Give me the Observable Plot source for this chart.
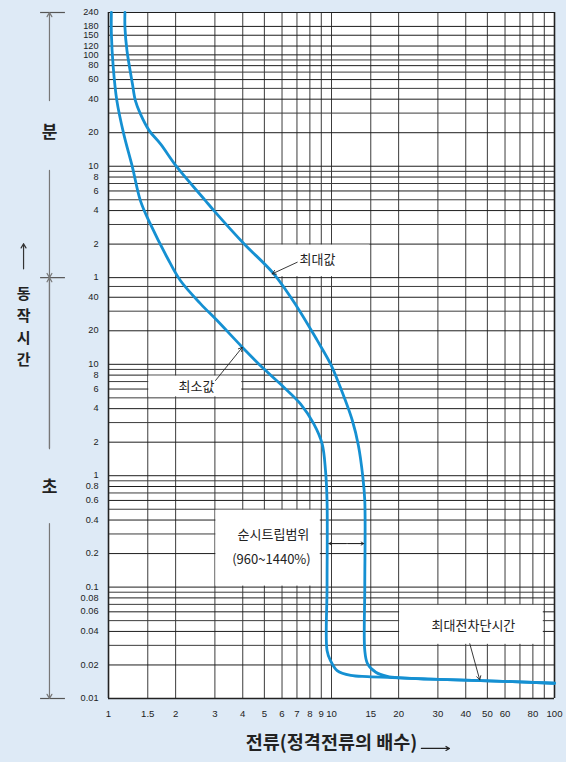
<!DOCTYPE html>
<html><head><meta charset="utf-8">
<script src="https://cdn.jsdelivr.net/npm/d3@7"></script>
<script src="https://cdn.jsdelivr.net/npm/@observablehq/plot@0.6"></script>
<style>
html,body{margin:0;padding:0;background:#deeaf6;}
#chart{width:566px;height:762px;}
</style></head><body><div id="chart"></div>
<script>
// Curve data: current (multiple of rated current) vs operating time (seconds)
const minI = [1.03, 1.03, 1.05, 1.09, 1.17, 1.28, 1.39, 1.54, 1.83, 2.10, 2.59, 3.07, 3.98, 4.97, 6.11, 7.26, 8.33, 9.08, 9.40, 9.55, 9.55, 9.55, 9.90, 10.6, 12.2, 14.5, 20.4, 27.8, 46.6, 100];
const minT = [14400, 9300, 4650, 2330, 1170, 590, 295, 182, 91.5, 56.5, 34.9, 24.7, 14.25, 9.11, 6.23, 4.42, 2.92, 1.93, 1.11, 0.6, 0.1, 0.027, 0.0219, 0.0178, 0.0161, 0.0157, 0.0153, 0.0149, 0.0145, 0.0137];
const maxI = [1.185, 1.185, 1.21, 1.28, 1.32, 1.39, 1.52, 1.71, 2.03, 2.72, 2.97, 4.05, 5.51, 7.02, 8.63, 9.90, 10.8, 12.4, 13.2, 13.8, 14.1, 14.1, 14.1, 14.5, 15.8, 17.8, 20.4, 27.8, 46.6, 100];
const maxT = [14400, 10600, 6560, 3300, 2330, 1770, 1260, 953, 588, 295, 240, 121, 64.9, 32.6, 16.4, 10.1, 6.68, 3.13, 1.87, 1.0, 0.6, 0.1, 0.027, 0.0206, 0.0172, 0.0158, 0.0153, 0.0149, 0.0145, 0.0137];

// Axes
const xTicks = [1, 1.5, 2, 3, 4, 5, 6, 7, 8, 9, 10, 15, 20, 30, 40, 50, 60, 80, 100];
const xGrid = [1, 1.5, 2, 3, 4, 5, 6, 7, 8, 9, 10, 15, 20, 30, 40, 50, 60, 70, 80, 90, 100];
const yTickValues = [0.01, 0.02, 0.04, 0.06, 0.08, 0.1, 0.2, 0.4, 0.6, 0.8, 1, 2, 4, 6, 8, 10, 20, 40, 60, 120, 240, 360, 480, 600, 1200, 2400, 3600, 4800, 6000, 7200, 9000, 10800, 14400];
const yTickLabels = ["0.01", "0.02", "0.04", "0.06", "0.08", "0.1", "0.2", "0.4", "0.6", "0.8", "1", "2", "4", "6", "8", "10", "20", "40", "1", "2", "4", "6", "8", "10", "20", "40", "60", "80", "100", "120", "150", "180", "240"];
const yMinorGrid = [0.03, 0.05, 0.07, 0.09, 0.3, 0.5, 0.7, 0.9, 3, 5, 7, 9, 30, 50, 180, 300, 420, 540, 1800, 3000, 4200, 5400];

// Annotation boxes (white), texts and arrows
const boxX1 = [5, 1.5, 3, 20];
const boxX2 = [15, 4, 9, 90];
const boxY1 = [60, 5, 0.1, 0.03];
const boxY2 = [120, 8, 0.5, 0.07];
const labelText = ["최대값", "최소값", "순시트립범위", "(960~1440%)", "최대전차단시간"];
const labelX = [8.65, 2.48, 5.49, 5.38, 43.3];
const labelY = [87.3, 6.25, 0.297, 0.177, 0.0452];
const arrX1 = [7.02, 3.02, 41.7];
const arrY1 = [82.5, 7.16, 0.031];
const arrX2 = [5.42, 3.98, 46.2];
const arrY2 = [64.9, 14.2, 0.01472];
const rangeArrow = {x1: 11.6, x2: 9.75, x3: 11.9, x4: 13.95, y: 0.246};

// Side (margin) annotation
const sideX = 0.5436, sideTickX1 = 0.496, sideTickX2 = 0.641, sideTextX = 0.416;
const sideCross = [14400, 60, 0.01];
const sideArrY1 = [2330, 550, 1.75, 0.372];
const sideArrY2 = [14400, 60, 60, 0.01];
const sideLabels = ["분", "초"];
const sideLabelY = [1200, 0.78];
const xTitle = "전류(정격전류의 배수)";
const yTitleChars = ["동", "작", "시", "간"];
const yTitleY = [42.3, 26.8, 17.0, 10.8];

const labelMap = new Map(yTickValues.map((v, i) => [v, yTickLabels[i]]));
const minData = minI.map((x, i) => ({I: x, t: minT[i]}));
const maxData = maxI.map((x, i) => ({I: x, t: maxT[i]}));
const boxes = boxX1.map((x, i) => ({x1: x, x2: boxX2[i], y1: boxY1[i], y2: boxY2[i]}));
const labels = labelText.map((s, i) => ({s, x: labelX[i], y: labelY[i]}));
const arrows = arrX1.map((x, i) => ({x1: x, y1: arrY1[i], x2: arrX2[i], y2: arrY2[i]}));
const sideArrows = sideArrY1.map((y, i) => ({y1: y, y2: sideArrY2[i]}));

const KR = "'Noto Sans CJK KR', 'Noto Sans', sans-serif";
const blue = "#1590d2";
const grid = "#3c3c3c";

const chart = Plot.plot({
  width: 566, height: 762,
  marginLeft: 108, marginRight: 12, marginTop: 12, marginBottom: 64,
  x: {type: "log", domain: [1, 100], axis: null},
  y: {type: "log", domain: [0.01, 14400], axis: null},
  style: {background: "transparent", fontFamily: "'Liberation Sans', Arial, sans-serif", fontSize: "9.6px", color: "#222"},
  marks: [
    Plot.frame({fill: "white", stroke: "none"}),
    Plot.ruleX(xGrid, {stroke: grid, strokeWidth: 1}),
    Plot.ruleY(yMinorGrid, {stroke: grid, strokeWidth: 1}),
    Plot.ruleY(yTickValues, {stroke: "#1e1e1e", strokeWidth: 1}),
    Plot.ruleX([1, 100], {stroke: "#222", strokeWidth: 1.6}),
    Plot.ruleY([0.01], {stroke: "#222", strokeWidth: 1.6}),
    Plot.rect(boxes, {x1: "x1", x2: "x2", y1: "y1", y2: "y2", fill: "white", inset: 1}),
    Plot.line(minData, {x: "I", y: "t", stroke: blue, strokeWidth: 2.8, curve: "catmull-rom"}),
    Plot.line(maxData, {x: "I", y: "t", stroke: blue, strokeWidth: 2.8, curve: "catmull-rom"}),
    Plot.arrow(arrows, {x1: "x1", y1: "y1", x2: "x2", y2: "y2", stroke: "#222", strokeWidth: 0.9, headLength: 7}),
    Plot.arrow([rangeArrow], {x1: "x1", x2: "x2", y1: "y", y2: "y", stroke: "#222", strokeWidth: 0.9, headLength: 5}),
    Plot.arrow([rangeArrow], {x1: "x3", x2: "x4", y1: "y", y2: "y", stroke: "#222", strokeWidth: 0.9, headLength: 5}),
    Plot.ruleY([rangeArrow], {y: "y", x1: "x2", x2: "x4", stroke: "#222", strokeWidth: 0.9}),
    Plot.text(labels, {x: "x", y: "y", text: "s", fontFamily: KR, fontSize: 13, fill: "#222"}),
    // tick labels
    Plot.text(xTicks, {x: d => d, text: d => String(d), frameAnchor: "bottom", dy: 18, fontSize: 9.6, fill: "#222"}),
    Plot.text(yTickValues, {y: d => d, text: d => labelMap.get(d), frameAnchor: "left", dx: -10, textAnchor: "end", fontSize: 9.2, lineHeight: 0.9, fill: "#222"}),
    // side annotation
    Plot.ruleY(sideCross, {x1: sideTickX1, x2: sideTickX2, stroke: "#555", strokeWidth: 1.2}),
    Plot.arrow(sideArrows, {x1: sideX, x2: sideX, y1: "y1", y2: "y2", stroke: "#777", strokeWidth: 1.2, headLength: 6}),
    Plot.ruleX([sideX], {y1: 60, y2: 1.75, stroke: "#777", strokeWidth: 1.2}),
    Plot.text(sideLabels, {x: sideX, y: (d, i) => sideLabelY[i], fontFamily: KR, fontSize: 17, fontWeight: "bold", fill: "#222"}),
    Plot.arrow([{y1: 72, y2: 121}], {x1: sideTextX, x2: sideTextX, y1: "y1", y2: "y2", stroke: "#333", strokeWidth: 1.2, headLength: 6}),
    Plot.text(yTitleChars, {x: sideTextX, y: (d, i) => yTitleY[i], fontFamily: KR, fontSize: 15, fontWeight: "bold", fill: "#222"}),
    Plot.text([xTitle], {frameAnchor: "bottom", dy: 50, fontFamily: KR, fontSize: 18.5, fontWeight: "bold", fill: "#222"}),
    Plot.arrow([{x1: 25.3, x2: 33.8}], {x1: "x1", x2: "x2", y1: 0.00356, y2: 0.00356, stroke: "#222", strokeWidth: 1.2, headLength: 5})
  ]
});
document.getElementById("chart").appendChild(chart);
</script>
</body></html>
